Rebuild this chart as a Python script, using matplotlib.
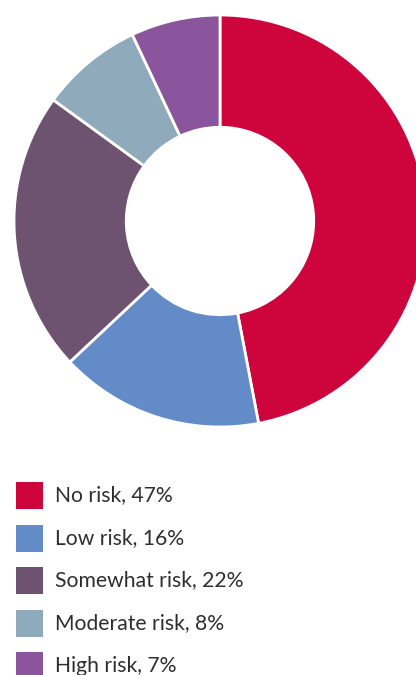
import matplotlib
matplotlib.use("Agg")
import matplotlib.pyplot as plt
from matplotlib.patches import Rectangle

labels = ["No risk", "Low risk", "Somewhat risk", "Moderate risk", "High risk"]
values = [47, 16, 22, 8, 7]
colors = ["#CE053C", "#628BC7", "#6E5371", "#8FAABB", "#8A559C"]

W, H = 416, 675
fig = plt.figure(figsize=(W / 100, H / 100), dpi=100)
fig.patch.set_facecolor("white")

# donut, centre ~ (220, 221) px, radius ~206 px (right side runs off the canvas)
cx, cy, r = 220, 221, 206
ax = fig.add_axes([(cx - r) / W, (H - cy - r) / H, 2 * r / W, 2 * r / H])
ax.pie(values, colors=colors, startangle=90, counterclock=False, radius=1,
       wedgeprops=dict(width=0.545, edgecolor="white", linewidth=2))
ax.set_xlim(-1, 1)
ax.set_ylim(-1, 1)
ax.set_aspect("equal")
ax.axis("off")

# legend
y0 = 495.5
step = 42.5
for i, (lab, val, col) in enumerate(zip(labels, values, colors)):
    yc = y0 + i * step
    fig.add_artist(Rectangle((16 / W, (H - yc - 13.5) / H), 27 / W, 27 / H,
                             transform=fig.transFigure, facecolor=col, edgecolor="none"))
    fig.text(55 / W, (H - yc) / H, f"{lab}, {val}%", fontsize=15.2, family="Lato",
             color="#2e2e2e", va="center", ha="left")

fig.savefig("out.png", dpi=100)
